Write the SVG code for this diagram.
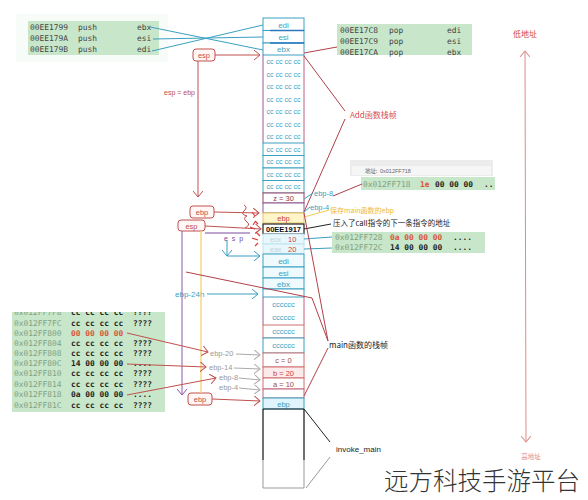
<svg xmlns="http://www.w3.org/2000/svg" width="588" height="500" viewBox="0 0 588 500">
<defs>
<style>
.mono{font-family:"DejaVu Sans Mono","Liberation Mono",monospace;font-size:7.9px;}
.sans{font-family:"Liberation Sans","Noto Sans CJK SC",sans-serif;}
.cjk{font-family:"Noto Sans CJK SC","Liberation Sans",sans-serif;}
.grn{fill:#c8e6c9;}
.addr{fill:#7f9f82;}
.byte{fill:#1e1e1e;font-weight:bold;}
.redb{fill:#d9553b;font-weight:bold;}
.teal{fill:#3a9fc2;}
.ct{text-anchor:middle;}
.cellT{fill:#ffffff;stroke:#3a9fc2;stroke-width:1;}
.rbox{fill:#fff6f6;stroke:#c0504d;stroke-width:1;}
.rtxt{fill:#c0504d;}
.lr{stroke:#b0404a;stroke-width:1;fill:none;}
.lt{stroke:#3a9fc2;stroke-width:1;fill:none;}
.lg{stroke:#aaaaaa;stroke-width:1;fill:none;}
.lk{stroke:#222222;stroke-width:1;fill:none;}
</style>
<marker id="ar" markerWidth="8" markerHeight="10" refX="6" refY="5" orient="auto" markerUnits="userSpaceOnUse"><path d="M0,0 L6,5 L0,10" fill="none" stroke="#c0504d" stroke-width="1"/></marker>
<marker id="at" markerWidth="8" markerHeight="10" refX="6" refY="5" orient="auto" markerUnits="userSpaceOnUse"><path d="M0,0 L6,5 L0,10" fill="none" stroke="#3a9fc2" stroke-width="1"/></marker>
<marker id="ag" markerWidth="8" markerHeight="10" refX="6" refY="5" orient="auto" markerUnits="userSpaceOnUse"><path d="M0,0 L6,5 L0,10" fill="none" stroke="#aaaaaa" stroke-width="1"/></marker>
<marker id="ap" markerWidth="8" markerHeight="10" refX="6" refY="5" orient="auto-start-reverse" markerUnits="userSpaceOnUse"><path d="M0,0 L6,5 L0,10" fill="none" stroke="#e08a8a" stroke-width="1"/></marker>
<marker id="au" markerWidth="8" markerHeight="10" refX="6" refY="5" orient="auto" markerUnits="userSpaceOnUse"><path d="M0,0 L6,5 L0,10" fill="none" stroke="#8a5aa8" stroke-width="1"/></marker>
<clipPath id="dumpclip"><rect x="12" y="312" width="153" height="100"/></clipPath>
</defs>
<rect width="588" height="500" fill="#ffffff"/>

<!-- push instructions -->
<g id="push-box">
<rect x="16" y="14" width="152" height="48" fill="#f8fcf8"/>
<rect x="28" y="21" width="131" height="34" class="grn"/>
<text class="mono" x="30" y="30" fill="#444">00EE1799</text><text class="mono" x="78" y="30" fill="#444">push</text><text class="mono" x="137" y="30" fill="#444">ebx</text>
<text class="mono" x="30" y="41" fill="#444">00EE179A</text><text class="mono" x="78" y="41" fill="#444">push</text><text class="mono" x="137" y="41" fill="#444">esi</text>
<text class="mono" x="30" y="52" fill="#444">00EE179B</text><text class="mono" x="78" y="52" fill="#444">push</text><text class="mono" x="137" y="52" fill="#444">edi</text>
</g>

<!-- pop instructions -->
<g id="pop-box">
<rect x="337" y="24" width="135" height="31" class="grn"/>
<text class="mono" x="340" y="33" fill="#444">00EE17C8</text><text class="mono" x="389" y="33" fill="#444">pop</text><text class="mono" x="447" y="33" fill="#444">edi</text>
<text class="mono" x="340" y="44" fill="#444">00EE17C9</text><text class="mono" x="389" y="44" fill="#444">pop</text><text class="mono" x="447" y="44" fill="#444">esi</text>
<text class="mono" x="340" y="55" fill="#444">00EE17CA</text><text class="mono" x="389" y="55" fill="#444">pop</text><text class="mono" x="447" y="55" fill="#444">ebx</text>
</g>

<!-- stack column -->
<g id="stack">
<g id="s-edi"><rect x="263" y="18" width="41" height="12.5" class="cellT"/><text class="sans teal ct" x="283.5" y="27.5" font-size="8">edi</text></g>
<g id="s-esi"><rect x="263" y="30.5" width="41" height="12.5" class="cellT"/><text class="sans teal ct" x="283.5" y="40" font-size="8">esi</text></g>
<g id="s-ebx"><rect x="263" y="43" width="41" height="12" class="cellT"/><text class="sans teal ct" x="283.5" y="52" font-size="8">ebx</text></g>
<line x1="270" y1="30.5" x2="304" y2="30.5" stroke="#2a78c0" stroke-width="1.6"/>
<line x1="270" y1="43" x2="304" y2="43" stroke="#2a78c0" stroke-width="1.6"/>
<g id="s-cc-top">
<line x1="263" y1="55" x2="263" y2="143" stroke="#9a5a9a"/>
<line x1="304" y1="55" x2="304" y2="143" stroke="#c06080"/>
<g class="sans teal ct" font-size="7">
<text x="283.5" y="64">cc cc cc cc</text>
<text x="283.5" y="76.5">cc cc cc cc</text>
<text x="283.5" y="89">cc cc cc cc</text>
<text x="283.5" y="101.5">cc cc cc cc</text>
<text x="283.5" y="114">cc cc cc cc</text>
<text x="283.5" y="126.5">cc cc cc cc</text>
<text x="283.5" y="139">cc cc cc cc</text>
</g>
</g>
<g id="s-cc-low">
<rect x="263" y="143" width="41" height="12.5" class="cellT"/>
<rect x="263" y="155.5" width="41" height="12.5" class="cellT"/>
<rect x="263" y="168" width="41" height="12.5" class="cellT"/>
<rect x="263" y="180.5" width="41" height="12.5" class="cellT"/>
<g class="sans teal ct" font-size="7">
<text x="283.5" y="151.5">cc cc cc cc</text>
<text x="283.5" y="164">cc cc cc cc</text>
<text x="283.5" y="176.5">cc cc cc cc</text>
<text x="283.5" y="189">cc cc cc cc</text>
</g>
</g>
<g id="s-z"><rect x="263" y="193" width="41" height="10" fill="#fff" stroke="#a04060"/><text class="sans ct" x="283.5" y="201" font-size="7.5" fill="#8b3a3a">z = 30</text></g>
<g id="s-empty1"><rect x="263" y="203" width="41" height="10" fill="#fff" stroke="#8a5a9a"/></g>
<g id="s-ebp1"><rect x="263" y="213" width="41" height="10" fill="#fff5c8" stroke="#e3c660"/><text class="sans ct" x="283.5" y="221" font-size="7.5" fill="#d04040">ebp</text></g>
<g id="s-ret"><rect x="263" y="224" width="41" height="10" fill="#fff" stroke="#222" stroke-width="1.2"/><text class="sans ct" x="283.5" y="232" font-size="7.5" font-weight="bold" fill="#111">00EE1917</text></g>
<g id="s-ecx"><rect x="263" y="234" width="41" height="10" fill="#e8f7fb" stroke="#bfe3ef"/><text class="sans" x="270" y="242" font-size="7" fill="#b6d6e4">ecx</text><text class="sans" x="288" y="242" font-size="7.5" fill="#d04040">10</text></g>
<g id="s-eax"><rect x="263" y="244" width="41" height="10" fill="#e8f7fb" stroke="#bfe3ef"/><text class="sans" x="270" y="252" font-size="7" fill="#b6d6e4">eax</text><text class="sans" x="288" y="252" font-size="7.5" fill="#d04040">20</text></g>
<g id="s-edi2"><rect x="263" y="254" width="41" height="13" fill="#eefafd" stroke="#3a9fc2"/><text class="sans teal ct" x="283.5" y="263.5" font-size="8">edi</text></g>
<g id="s-esi2"><rect x="263" y="267" width="41" height="11" fill="#eefafd" stroke="#3a9fc2"/><text class="sans teal ct" x="283.5" y="275.5" font-size="8">esi</text></g>
<g id="s-ebx2"><rect x="263" y="278" width="41" height="11" fill="#eefafd" stroke="#3a9fc2"/><text class="sans teal ct" x="283.5" y="286.5" font-size="8">ebx</text></g>
<g id="s-empty2"><rect x="263" y="289" width="41" height="8" fill="#fff" stroke="#3a9fc2"/></g>
<g id="s-c6a"><line x1="263" y1="297" x2="263" y2="325" stroke="#9a5a9a"/><line x1="304" y1="297" x2="304" y2="325" stroke="#c06080"/><text class="sans teal ct" x="283.5" y="307" font-size="7.5">cccccc</text><text class="sans teal ct" x="283.5" y="320" font-size="7.5">cccccc</text></g>
<g id="s-c6c"><rect x="263" y="325" width="41" height="13" fill="#fff" stroke="#d07070"/><text class="sans teal ct" x="283.5" y="334" font-size="7.5">cccccc</text></g>
<g id="s-c6d"><rect x="263" y="338" width="41" height="15" fill="#fff" stroke="#3a9fc2"/><text class="sans teal ct" x="283.5" y="348" font-size="7.5">cccccc</text></g>
<g id="s-c"><rect x="263" y="353" width="41" height="14" fill="#fff" stroke="#d07070"/><text class="sans ct" x="283.5" y="363" font-size="7.5" fill="#a04848">c = 0</text></g>
<g id="s-b"><rect x="263" y="367" width="41" height="11" fill="#fdeaea" stroke="#d07070"/><text class="sans ct" x="283.5" y="376" font-size="7.5" fill="#d04040">b = 20</text></g>
<g id="s-a"><rect x="263" y="378" width="41" height="11" fill="#fff" stroke="#d07070"/><text class="sans ct" x="283.5" y="386.5" font-size="7.5" fill="#a04848">a = 10</text></g>
<g id="s-empty3"><rect x="263" y="389" width="41" height="9" fill="#fff" stroke="#c06080"/></g>
<g id="s-ebp2"><rect x="263" y="398" width="41" height="11" fill="#dff4fb" stroke="#3a9fc2"/><text class="sans teal ct" x="283.5" y="407" font-size="7.5">ebp</text></g>
<g id="s-invoke">
<line x1="263" y1="409" x2="304" y2="409" stroke="#222"/>
<line x1="263" y1="409" x2="263" y2="460" stroke="#222" stroke-width="1.3"/>
<line x1="304" y1="409" x2="304" y2="460" stroke="#222" stroke-width="1.3"/>
<polyline points="263,460 263,488 304,488 304,460" fill="none" stroke="#999"/>
</g>
</g>

<!-- register boxes on left -->
<g id="esp-top"><rect x="193" y="49" width="22" height="12" rx="3" class="rbox"/><text class="sans rtxt ct" x="204" y="58" font-size="7.5">esp</text></g>
<g id="ebp-mid"><rect x="190" y="206" width="24" height="12" rx="3" class="rbox"/><text class="sans rtxt ct" x="202" y="215" font-size="7.5">ebp</text></g>
<g id="esp-mid"><rect x="178" y="220" width="27" height="11" rx="3" class="rbox"/><text class="sans rtxt ct" x="191.5" y="228.5" font-size="7.5">esp</text></g>
<g id="ebp-bot"><rect x="188" y="393" width="24" height="12" rx="3" class="rbox"/><text class="sans rtxt ct" x="200" y="402" font-size="7.5">ebp</text></g>

<!-- memory dump left -->
<g id="dump-left" class="mono">
<rect x="12" y="312" width="153" height="100" class="grn"/>
<g clip-path="url(#dumpclip)"><text x="14" y="315" class="addr">0x012FF7F8</text><text x="71" y="315" class="byte">cc cc cc cc</text><text x="133" y="315" class="byte">????</text></g>
<text x="14" y="326" class="addr">0x012FF7FC</text><text x="71" y="326" class="byte">cc cc cc cc</text><text x="133" y="326" class="byte">????</text>
<text x="14" y="336" class="addr">0x012FF800</text><text x="71" y="336" class="redb">00 00 00 00</text>
<text x="14" y="346" class="addr">0x012FF804</text><text x="71" y="346" class="byte">cc cc cc cc</text><text x="133" y="346" class="byte">????</text>
<text x="14" y="356" class="addr">0x012FF808</text><text x="71" y="356" class="byte">cc cc cc cc</text><text x="133" y="356" class="byte">????</text>
<text x="14" y="366" class="addr">0x012FF80C</text><text x="71" y="366" class="byte">14 00 00 00</text><text x="133" y="366" class="byte">....</text>
<text x="14" y="376" class="addr">0x012FF810</text><text x="71" y="376" class="byte">cc cc cc cc</text><text x="133" y="376" class="byte">????</text>
<text x="14" y="387" class="addr">0x012FF814</text><text x="71" y="387" class="byte">cc cc cc cc</text><text x="133" y="387" class="byte">????</text>
<text x="14" y="397" class="addr">0x012FF818</text><text x="71" y="397" class="byte">0a 00 00 00</text><text x="133" y="397" class="byte">....</text>
<text x="14" y="408" class="addr">0x012FF81C</text><text x="71" y="408" class="byte">cc cc cc cc</text><text x="133" y="408" class="byte">????</text>
</g>

<!-- memory window right -->
<g id="mem-718">
<rect x="350" y="160" width="143" height="16" fill="#ececec"/>
<rect x="352" y="166" width="139" height="9" fill="#f6f6f6"/>
<text class="cjk" x="365" y="173" font-size="5.5" fill="#666">地址:</text>
<text class="sans" x="380" y="173" font-size="5.5" fill="#666">0x012FF718</text>
<rect x="361" y="177" width="134" height="13" class="grn"/>
<text class="mono addr" x="363" y="186.5">0x012FF718</text>
<text class="mono redb" x="420" y="186.5">1e</text>
<text class="mono byte" x="435" y="186.5">00 00 00</text>
<text class="mono byte" x="484" y="186.5">..</text>
</g>
<g id="mem-728" class="mono">
<rect x="332" y="232" width="153" height="21" class="grn"/>
<text x="335" y="239.5" class="addr">0x012FF728</text><text x="390" y="239.5" class="redb">0a 00 00 00</text><text x="453" y="239.5" class="byte">....</text>
<text x="335" y="250" class="addr">0x012FF72C</text><text x="390" y="250" class="byte">14 00 00 00</text><text x="453" y="250" class="byte">....</text>
</g>

<!-- labels -->
<g id="labels">
<text class="cjk" x="350" y="118" font-size="8" fill="#d85050">Add函数栈帧</text>
<text class="cjk" x="329" y="348" font-size="8" fill="#222">main函数的栈帧</text>
<text class="sans" x="336" y="452" font-size="8" fill="#222">invoke_main</text>
<text class="cjk" x="333" y="226" font-size="7.5" fill="#222">压入了call指令的下一条指令的地址</text>
<text class="cjk" x="330" y="213" font-size="7" fill="#f2b632">保存main函数的ebp</text>
<text class="sans teal" x="314" y="196" font-size="7.5">ebp-8</text>
<text class="sans teal" x="310" y="210" font-size="7.5">ebp-4</text>
<text class="sans" x="164" y="95" font-size="7" fill="#c0504d">esp = ebp</text>
<text class="sans teal" x="175" y="297" font-size="8">ebp-24h</text>
<text class="sans" x="210" y="356" font-size="7.5" fill="#9a9a9a">ebp-20</text>
<text class="sans" x="209" y="370" font-size="7.5" fill="#9a9a9a">ebp-14</text>
<text class="sans" x="219" y="380" font-size="7.5" fill="#9a9a9a">ebp-8</text>
<text class="sans" x="219" y="390" font-size="7.5" fill="#9a9a9a">ebp-4</text>
<text class="cjk" x="513" y="37" font-size="8" fill="#d04848">低地址</text>
<text class="cjk ct" x="531" y="459" font-size="6.5" fill="#e08a8a">高地址</text>
<text class="sans" x="224" y="241" font-size="7" fill="#7a4aa0" letter-spacing="1">e s p</text>
<text class="cjk" x="384" y="490" font-size="24.5" font-weight="300" fill="#333">远方科技手游平台</text>
</g>

<!-- connectors -->
<g id="connectors">
<line x1="150" y1="27" x2="263" y2="50" class="lt"/>
<line x1="153" y1="39" x2="263" y2="37" class="lt"/>
<line x1="152" y1="51" x2="263" y2="25" class="lt"/>
<line x1="304" y1="53" x2="337" y2="47" class="lr"/>
<line x1="304" y1="56" x2="345" y2="111" class="lr"/>
<line x1="304" y1="212" x2="345" y2="119" class="lr"/>
<line x1="525" y1="51" x2="526" y2="442" stroke="#e08a8a" stroke-width="1" marker-start="url(#ap)" marker-end="url(#ap)"/>
<line x1="215" y1="55" x2="260" y2="55" stroke="#c0504d" marker-end="url(#ar)"/>
<line x1="198" y1="61" x2="198" y2="197" stroke="#c0504d" marker-end="url(#ar)"/>
<line x1="214" y1="212" x2="259" y2="213" stroke="#c0504d" marker-end="url(#ar)"/>
<line x1="205" y1="226" x2="261" y2="229" stroke="#c0504d" marker-end="url(#ar)"/>
<line x1="205" y1="233" x2="250" y2="233" stroke="#7a4aa0"/>
<line x1="212" y1="399" x2="260" y2="401" stroke="#c0504d" marker-end="url(#ar)"/>
<path d="M244,205 q4,2 0,6 q-4,3 3,5 q-5,2 0,6 q4,3 -2,6" fill="none" stroke="#c0504d"/>
<path d="M252,212 l3,4 M255,221 l3,3 M250,227 l5,2 M256,232 l4,4 M252,238 l6,2 M258,243 l-3,3 M253,225 l2,-3" stroke="#e03a3a" stroke-width="1.2" fill="none"/>
<path d="M227,240 V256" stroke="#3a9fc2" fill="none" marker-end="url(#at)"/>
<path d="M227,256 H260" stroke="#3a9fc2" fill="none" marker-end="url(#at)"/>
<line x1="182" y1="231" x2="182" y2="395" stroke="#8a5aa8" marker-end="url(#au)"/>
<line x1="201" y1="231" x2="201" y2="393" stroke="#f2d060" stroke-width="1.2"/>
<line x1="304" y1="217" x2="329" y2="210" stroke="#f2d060" stroke-width="1.2"/>
<line x1="207" y1="294" x2="258" y2="294" stroke="#3a9fc2" marker-end="url(#at)"/>
<line x1="304" y1="199" x2="313" y2="193" class="lt"/>
<line x1="304" y1="212" x2="310" y2="207" class="lt"/>
<line x1="333" y1="196" x2="362" y2="184" class="lr"/>
<line x1="304" y1="229" x2="331" y2="224" class="lk"/>
<line x1="304" y1="239" x2="332" y2="237" class="lt"/>
<line x1="304" y1="249" x2="332" y2="248" class="lt"/>
<line x1="304" y1="213" x2="328" y2="341" class="lr"/>
<path d="M186,272 L312,298 L328,341" class="lr"/>
<line x1="304" y1="396" x2="328" y2="348" class="lr"/>
<line x1="127" y1="333" x2="208" y2="352" stroke="#c0504d" marker-end="url(#ar)"/>
<line x1="127" y1="364" x2="206" y2="367" stroke="#c0504d" marker-end="url(#ar)"/>
<line x1="127" y1="395" x2="216" y2="378" stroke="#c0504d" marker-end="url(#ar)"/>
<line x1="236" y1="354" x2="260" y2="355" class="lg" marker-end="url(#ag)"/>
<line x1="234" y1="368" x2="260" y2="369" class="lg" marker-end="url(#ag)"/>
<line x1="239" y1="378" x2="260" y2="380" class="lg" marker-end="url(#ag)"/>
<line x1="239" y1="388" x2="260" y2="390" class="lg" marker-end="url(#ag)"/>
<line x1="304" y1="409" x2="330" y2="442" class="lk"/>
<line x1="306" y1="488" x2="330" y2="457" stroke="#999"/>
</g>
</svg>
